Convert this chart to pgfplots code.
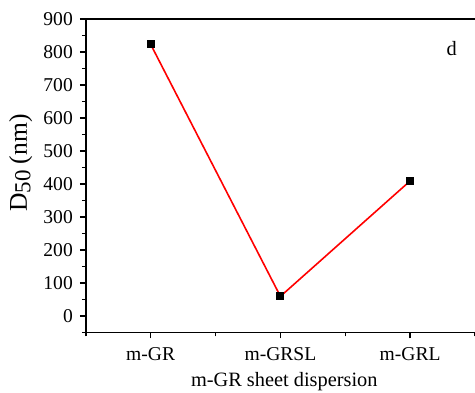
\documentclass[border=0pt]{standalone}
\usepackage{fontspec}
\setmainfont{Liberation Serif}
\usepackage{pgfplots}
\pgfplotsset{compat=1.18}
\begin{document}
\begin{tikzpicture}
\begin{axis}[
  scale only axis,
  width=195pt, height=157pt,
  at={(0,0)}, anchor=south west,
  xmin=0.5, xmax=3.5,
  ymin=-50, ymax=900,
  axis x line*=bottom,
  axis y line*=left,
  axis line style={line width=0.7pt, black},
  xtick={1,2,3},
  xticklabels={m-GR,m-GRSL,m-GRL},
  minor xtick={0.5,1.5,2.5,3.5},
  ytick={0,100,...,900},
  minor ytick={-50,50,150,...,850},
  tick align=outside,
  tick style={line width=0.7pt, black},
  major tick length=3pt,
  minor tick length=2pt,
  tick label style={font=\fontsize{9.8}{11}\selectfont},
  /pgf/number format/assume math mode=true,
  xticklabel style={yshift=-1pt},
  xlabel={m-GR sheet dispersion},
  xlabel style={font=\fontsize{10.2}{12}\selectfont, at={(axis description cs:0.51,0)}, anchor=north, yshift=-16.5pt},
  ylabel={D\raisebox{-0.3ex}{\fontsize{11.5}{12}\selectfont 50} (nm)},
  ylabel style={font=\fontsize{12.8}{14}\selectfont, at={(axis description cs:-0.167,0.54)}, anchor=center},
  clip=false,
]
\addplot[red, line width=0.8pt, mark=square*, mark size=1.6pt,
  mark options={black, fill=black, solid}]
  coordinates {(1,823) (2,59) (3,409)};
\draw[line width=0.7pt] (rel axis cs:0,1) -- (rel axis cs:1,1);
\node[font=\fontsize{10.2}{12}\selectfont] at (rel axis cs:0.94,0.905) {d};
\end{axis}
\pgfresetboundingbox
\path (-43pt,-30pt) rectangle (195pt,166.5pt);
\end{tikzpicture}
\end{document}
